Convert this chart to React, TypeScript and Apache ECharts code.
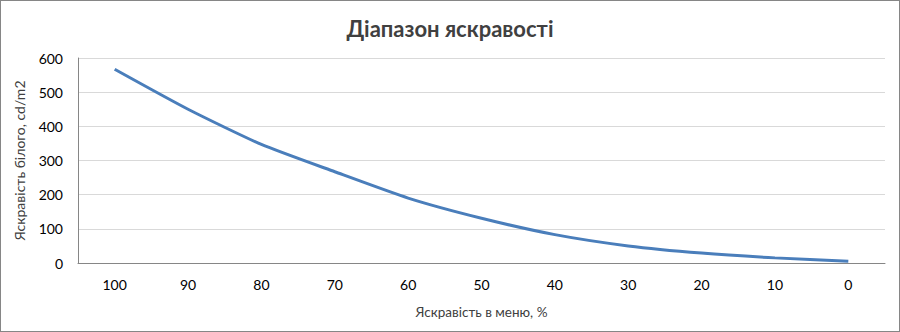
import React, { useEffect, useRef } from "react";
import * as echarts from "echarts";

const categories = ["100", "90", "80", "70", "60", "50", "40", "30", "20", "10", "0"];
const brightness = [567, 450, 347, 267, 190, 131, 83, 50, 29, 15, 5];
const title = "Діапазон яскравості";
const xName = "Яскравість в меню, %";
const yName = "Яскравість білого, cd/m2";

export default function App() {
  const ref = useRef<HTMLDivElement>(null);
  useEffect(() => {
    if (!ref.current) return;
    const chart = echarts.init(ref.current, null, { renderer: "svg" });
    const font = "Lato, 'Open Sans', sans-serif";
    chart.setOption({
      animation: false,
      backgroundColor: "#ffffff",
      title: {
        text: title,
        left: "center",
        top: 11,
        textStyle: { fontFamily: font, fontSize: 22, fontWeight: "bold", color: "#404040" },
      },
      grid: { left: 77, right: 14, top: 57, bottom: 68, containLabel: false },
      xAxis: {
        type: "category",
        data: categories,
        boundaryGap: true,
        name: xName,
        nameLocation: "middle",
        nameGap: 42,
        nameTextStyle: { fontFamily: font, fontSize: 13.5, color: "#404040" },
        axisLine: { lineStyle: { color: "#868686", width: 1 } },
        axisTick: { show: false },
        axisLabel: { fontFamily: font, fontSize: 14, color: "#000000", margin: 14 },
      },
      yAxis: {
        type: "value",
        min: 0,
        max: 600,
        interval: 100,
        name: yName,
        nameLocation: "middle",
        nameGap: 52,
        nameTextStyle: { fontFamily: font, fontSize: 14, color: "#404040" },
        axisLine: { show: true, lineStyle: { color: "#868686", width: 1 } },
        axisTick: { show: false },
        axisLabel: { fontFamily: font, fontSize: 14, color: "#000000", margin: 15 },
        splitLine: { lineStyle: { color: "#d9d9d9", width: 1 } },
      },
      series: [
        {
          type: "line",
          data: brightness,
          smooth: 0.2,
          symbol: "none",
          lineStyle: { color: "#4a7ebb", width: 3 },
        },
      ],
    });
    return () => chart.dispose();
  }, []);
  return (
    <div
      style={{
        position: "fixed",
        left: 0,
        top: 0,
        width: 900,
        height: 332,
        boxSizing: "border-box",
        border: "1px solid #868686",
        background: "#fff",
      }}
    >
      <div ref={ref} style={{ width: 898, height: 330 }} />
    </div>
  );
}
